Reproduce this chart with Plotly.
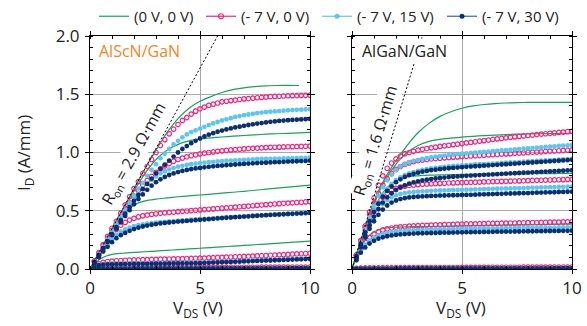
import plotly.graph_objects as go

# ---------------- data ----------------
V = [round(0.2 * i, 1) for i in range(51)]        # V_DS grid of the measured points
VG = [0.5 * i for i in range(21)]                 # V_DS grid of the (0 V, 0 V) lines

# ---- AlScN/GaN (left) ----
L_G1 = [0, 0.17, 0.35, 0.52, 0.69, 0.86, 1.02, 1.17, 1.29, 1.38, 1.44, 1.48, 1.515, 1.54, 1.555, 1.565, 1.572, 1.575, 1.576, 1.575]
L_G2 = [0, 0.17, 0.34, 0.51, 0.67, 0.82, 0.94, 1.02, 1.07, 1.10, 1.115, 1.125, 1.133, 1.14, 1.146, 1.152, 1.157, 1.161, 1.165, 1.168, 1.172]
L_G3 = [0, 0.16, 0.32, 0.46, 0.55, 0.585, 0.60, 0.61, 0.62, 0.628, 0.635, 0.643, 0.651, 0.659, 0.667, 0.676, 0.685, 0.694, 0.703, 0.712, 0.72]
L_G4 = [0, 0.09, 0.125, 0.135, 0.142, 0.148, 0.154, 0.16, 0.166, 0.172, 0.178, 0.184, 0.19, 0.196, 0.202, 0.208, 0.214, 0.22, 0.227, 0.233, 0.24]
L_G5 = [0, 0.004, 0.005, 0.005, 0.005, 0.005, 0.006, 0.006, 0.006, 0.006, 0.006, 0.007, 0.007, 0.007, 0.007, 0.007, 0.008, 0.008, 0.008, 0.008, 0.008]

L_P1 = [0, 0.07, 0.14, 0.21, 0.28, 0.35, 0.41, 0.48, 0.55, 0.62, 0.69, 0.75, 0.82, 0.88, 0.94, 1.00, 1.06, 1.11, 1.16, 1.20, 1.24, 1.275, 1.30, 1.33, 1.355, 1.375, 1.39, 1.405, 1.415, 1.425, 1.435, 1.44, 1.445, 1.45, 1.455, 1.46, 1.463, 1.466, 1.47, 1.473, 1.476, 1.479, 1.481, 1.483, 1.485, 1.487, 1.488, 1.489, 1.49, 1.491, 1.492]
L_P2 = [0, 0.066, 0.132, 0.198, 0.264, 0.33, 0.39, 0.45, 0.51, 0.57, 0.625, 0.675, 0.72, 0.76, 0.795, 0.83, 0.86, 0.885, 0.905, 0.925, 0.94, 0.952, 0.963, 0.972, 0.98, 0.988, 0.994, 1.0, 1.005, 1.01, 1.014, 1.018, 1.022, 1.025, 1.028, 1.031, 1.034, 1.036, 1.038, 1.04, 1.042, 1.044, 1.045, 1.046, 1.048, 1.049, 1.05, 1.051, 1.052, 1.053, 1.055]
L_P3 = [0, 0.06, 0.12, 0.18, 0.24, 0.295, 0.34, 0.375, 0.40, 0.42, 0.435, 0.447, 0.456, 0.463, 0.469, 0.474, 0.478, 0.482, 0.486, 0.489, 0.492, 0.495, 0.498, 0.501, 0.504, 0.507, 0.51, 0.513, 0.516, 0.519, 0.522, 0.525, 0.528, 0.531, 0.534, 0.537, 0.54, 0.543, 0.546, 0.549, 0.552, 0.555, 0.558, 0.561, 0.564, 0.566, 0.568, 0.571, 0.573, 0.576, 0.578]
L_P4 = [0, 0.025, 0.045, 0.057, 0.064, 0.068, 0.071, 0.073, 0.075, 0.077, 0.078, 0.079, 0.08, 0.081, 0.082, 0.083, 0.084, 0.085, 0.086, 0.087, 0.088, 0.089, 0.09, 0.091, 0.092, 0.093, 0.094, 0.096, 0.097, 0.099, 0.1, 0.102, 0.103, 0.105, 0.106, 0.108, 0.109, 0.111, 0.113, 0.114, 0.116, 0.118, 0.12, 0.121, 0.123, 0.125, 0.127, 0.129, 0.131, 0.133, 0.135]
L_P5 = [0, 0.006, 0.008, 0.009, 0.01, 0.01, 0.01, 0.011, 0.011, 0.011, 0.011, 0.011, 0.012, 0.012, 0.012, 0.012, 0.012, 0.012, 0.013, 0.013, 0.013, 0.013, 0.013, 0.013, 0.013, 0.014, 0.014, 0.014, 0.014, 0.014, 0.014, 0.014, 0.015, 0.015, 0.015, 0.015, 0.015, 0.015, 0.015, 0.016, 0.016, 0.016, 0.016, 0.016, 0.016, 0.016, 0.017, 0.017, 0.017, 0.017, 0.017]

L_B1 = [0, 0.065, 0.13, 0.195, 0.26, 0.325, 0.39, 0.45, 0.51, 0.57, 0.63, 0.69, 0.74, 0.80, 0.85, 0.90, 0.95, 0.99, 1.03, 1.07, 1.10, 1.13, 1.155, 1.175, 1.19, 1.205, 1.22, 1.235, 1.25, 1.262, 1.275, 1.285, 1.295, 1.305, 1.313, 1.32, 1.326, 1.332, 1.338, 1.343, 1.347, 1.35, 1.353, 1.356, 1.359, 1.362, 1.364, 1.366, 1.368, 1.37, 1.372]
L_B2 = [0, 0.062, 0.124, 0.186, 0.248, 0.31, 0.37, 0.43, 0.49, 0.545, 0.60, 0.645, 0.69, 0.73, 0.765, 0.795, 0.82, 0.84, 0.855, 0.868, 0.878, 0.886, 0.893, 0.899, 0.904, 0.909, 0.913, 0.917, 0.92, 0.923, 0.926, 0.929, 0.931, 0.933, 0.935, 0.937, 0.939, 0.941, 0.942, 0.944, 0.945, 0.946, 0.947, 0.948, 0.949, 0.95, 0.951, 0.952, 0.953, 0.954, 0.955]
L_B3 = [0, 0.055, 0.11, 0.165, 0.215, 0.26, 0.295, 0.32, 0.34, 0.355, 0.367, 0.376, 0.383, 0.389, 0.394, 0.398, 0.402, 0.405, 0.408, 0.411, 0.414, 0.417, 0.42, 0.423, 0.426, 0.429, 0.431, 0.433, 0.435, 0.438, 0.44, 0.442, 0.444, 0.447, 0.449, 0.451, 0.453, 0.456, 0.458, 0.46, 0.462, 0.465, 0.467, 0.469, 0.471, 0.474, 0.476, 0.478, 0.48, 0.482, 0.484]
L_B4 = [0, 0.024, 0.038, 0.044, 0.046, 0.047, 0.048, 0.048, 0.049, 0.049, 0.05, 0.05, 0.051, 0.051, 0.052, 0.052, 0.053, 0.053, 0.054, 0.054, 0.055, 0.055, 0.056, 0.056, 0.057, 0.057, 0.059, 0.06, 0.062, 0.063, 0.065, 0.066, 0.067, 0.069, 0.07, 0.072, 0.073, 0.075, 0.076, 0.078, 0.079, 0.08, 0.082, 0.083, 0.085, 0.086, 0.088, 0.089, 0.09, 0.092, 0.093]

L_N1 = [0, 0.06, 0.12, 0.18, 0.24, 0.30, 0.36, 0.42, 0.475, 0.53, 0.585, 0.635, 0.685, 0.73, 0.775, 0.82, 0.86, 0.895, 0.93, 0.965, 1.0, 1.03, 1.055, 1.08, 1.10, 1.12, 1.138, 1.153, 1.166, 1.178, 1.188, 1.198, 1.207, 1.215, 1.222, 1.229, 1.236, 1.242, 1.248, 1.253, 1.258, 1.263, 1.267, 1.271, 1.274, 1.277, 1.28, 1.282, 1.284, 1.286, 1.288]
L_N2 = [0, 0.058, 0.116, 0.174, 0.232, 0.29, 0.345, 0.40, 0.455, 0.505, 0.555, 0.60, 0.64, 0.68, 0.715, 0.745, 0.77, 0.79, 0.807, 0.82, 0.832, 0.842, 0.85, 0.857, 0.863, 0.868, 0.873, 0.877, 0.881, 0.885, 0.888, 0.891, 0.894, 0.897, 0.90, 0.902, 0.905, 0.907, 0.909, 0.911, 0.913, 0.915, 0.917, 0.918, 0.92, 0.922, 0.923, 0.925, 0.926, 0.928, 0.93]
L_N3 = [0, 0.05, 0.10, 0.15, 0.19, 0.23, 0.265, 0.29, 0.31, 0.328, 0.343, 0.355, 0.365, 0.373, 0.38, 0.386, 0.391, 0.395, 0.399, 0.403, 0.407, 0.41, 0.413, 0.416, 0.419, 0.422, 0.425, 0.428, 0.431, 0.434, 0.437, 0.44, 0.442, 0.445, 0.447, 0.45, 0.452, 0.455, 0.457, 0.46, 0.462, 0.464, 0.466, 0.468, 0.47, 0.472, 0.474, 0.476, 0.477, 0.479, 0.481]
L_N4 = [0, 0.02, 0.032, 0.037, 0.039, 0.04, 0.041, 0.041, 0.042, 0.042, 0.043, 0.043, 0.044, 0.044, 0.045, 0.045, 0.046, 0.046, 0.047, 0.047, 0.048, 0.048, 0.049, 0.049, 0.05, 0.05, 0.052, 0.053, 0.055, 0.056, 0.058, 0.059, 0.06, 0.062, 0.063, 0.065, 0.066, 0.068, 0.069, 0.071, 0.072, 0.073, 0.075, 0.076, 0.078, 0.079, 0.081, 0.082, 0.083, 0.085, 0.086]
OFF = [0, 0.003, 0.004, 0.004, 0.004, 0.004, 0.004, 0.004, 0.004, 0.004, 0.005, 0.005, 0.005, 0.005, 0.005, 0.005, 0.005, 0.005, 0.005, 0.005, 0.005, 0.005, 0.005, 0.005, 0.005, 0.005, 0.005, 0.005, 0.005, 0.005, 0.006, 0.006, 0.006, 0.006, 0.006, 0.006, 0.006, 0.006, 0.006, 0.006, 0.006, 0.006, 0.006, 0.006, 0.006, 0.006, 0.007, 0.007, 0.007, 0.007, 0.007]

# ---- AlGaN/GaN (right) ----
R_G1 = [0, 0.30, 0.58, 0.78, 0.93, 1.06, 1.17, 1.25, 1.31, 1.35, 1.38, 1.40, 1.412, 1.42, 1.425, 1.428, 1.43, 1.43, 1.43, 1.43, 1.43]
R_G2 = [0, 0.30, 0.56, 0.76, 0.90, 1.00, 1.06, 1.095, 1.113, 1.123, 1.132, 1.139, 1.145, 1.15, 1.154, 1.157, 1.159, 1.161, 1.163, 1.164, 1.165]
R_G3 = [0, 0.28, 0.52, 0.68, 0.76, 0.79, 0.80, 0.805, 0.808, 0.81, 0.812, 0.813, 0.814, 0.815, 0.816, 0.817, 0.817, 0.818, 0.819, 0.82, 0.82]
R_G4 = [0, 0.22, 0.32, 0.35, 0.36, 0.362, 0.364, 0.365, 0.367, 0.368, 0.37, 0.372, 0.373, 0.375, 0.376, 0.378, 0.379, 0.381, 0.382, 0.384, 0.385]

R_P1 = [0, 0.12, 0.245, 0.37, 0.49, 0.61, 0.72, 0.80, 0.865, 0.91, 0.945, 0.97, 0.99, 1.0, 1.01, 1.02, 1.027, 1.034, 1.04, 1.046, 1.052, 1.057, 1.062, 1.067, 1.072, 1.077, 1.082, 1.087, 1.092, 1.097, 1.102, 1.107, 1.112, 1.117, 1.121, 1.126, 1.13, 1.134, 1.138, 1.142, 1.146, 1.15, 1.154, 1.158, 1.161, 1.165, 1.168, 1.172, 1.175, 1.179, 1.182]
R_P2 = [0, 0.12, 0.24, 0.355, 0.465, 0.565, 0.65, 0.72, 0.775, 0.82, 0.855, 0.88, 0.898, 0.911, 0.921, 0.929, 0.935, 0.94, 0.944, 0.948, 0.951, 0.954, 0.957, 0.96, 0.962, 0.965, 0.967, 0.97, 0.972, 0.974, 0.976, 0.979, 0.981, 0.983, 0.986, 0.988, 0.99, 0.993, 0.995, 0.997, 1.0, 1.002, 1.004, 1.006, 1.009, 1.011, 1.013, 1.015, 1.018, 1.02, 1.022]
R_P3 = [0, 0.115, 0.225, 0.33, 0.42, 0.50, 0.565, 0.615, 0.65, 0.675, 0.692, 0.703, 0.711, 0.717, 0.721, 0.724, 0.727, 0.729, 0.731, 0.733, 0.735, 0.736, 0.738, 0.739, 0.741, 0.742, 0.743, 0.744, 0.745, 0.746, 0.748, 0.749, 0.75, 0.751, 0.752, 0.753, 0.754, 0.755, 0.756, 0.757, 0.759, 0.76, 0.761, 0.762, 0.763, 0.764, 0.765, 0.766, 0.767, 0.769, 0.77]
R_P4 = [0, 0.09, 0.17, 0.23, 0.27, 0.30, 0.32, 0.335, 0.345, 0.352, 0.358, 0.362, 0.365, 0.368, 0.37, 0.372, 0.374, 0.375, 0.377, 0.378, 0.379, 0.381, 0.382, 0.383, 0.385, 0.386, 0.387, 0.387, 0.388, 0.389, 0.39, 0.391, 0.391, 0.392, 0.393, 0.394, 0.395, 0.395, 0.396, 0.397, 0.398, 0.399, 0.399, 0.40, 0.401, 0.402, 0.403, 0.403, 0.404, 0.405, 0.406]

R_B1 = [0, 0.115, 0.23, 0.34, 0.445, 0.54, 0.63, 0.70, 0.76, 0.81, 0.85, 0.88, 0.90, 0.915, 0.927, 0.937, 0.945, 0.952, 0.958, 0.964, 0.969, 0.974, 0.978, 0.982, 0.986, 0.99, 0.993, 0.996, 0.999, 1.002, 1.005, 1.008, 1.011, 1.014, 1.017, 1.02, 1.023, 1.026, 1.029, 1.032, 1.035, 1.038, 1.041, 1.044, 1.047, 1.05, 1.053, 1.056, 1.059, 1.062, 1.065]
R_B2 = [0, 0.11, 0.22, 0.32, 0.415, 0.50, 0.575, 0.64, 0.69, 0.73, 0.762, 0.787, 0.806, 0.82, 0.832, 0.842, 0.85, 0.857, 0.863, 0.868, 0.873, 0.877, 0.88, 0.884, 0.887, 0.89, 0.892, 0.894, 0.897, 0.899, 0.901, 0.903, 0.905, 0.907, 0.91, 0.912, 0.914, 0.916, 0.918, 0.921, 0.923, 0.925, 0.927, 0.929, 0.932, 0.934, 0.936, 0.938, 0.94, 0.943, 0.945]
R_B3 = [0, 0.105, 0.205, 0.30, 0.38, 0.45, 0.51, 0.555, 0.59, 0.615, 0.632, 0.644, 0.652, 0.658, 0.662, 0.665, 0.667, 0.669, 0.671, 0.673, 0.674, 0.675, 0.677, 0.678, 0.679, 0.68, 0.681, 0.682, 0.683, 0.684, 0.686, 0.687, 0.688, 0.689, 0.69, 0.691, 0.692, 0.693, 0.694, 0.695, 0.697, 0.698, 0.699, 0.70, 0.701, 0.702, 0.703, 0.704, 0.705, 0.706, 0.707]
R_B4 = [0, 0.085, 0.16, 0.21, 0.245, 0.27, 0.288, 0.30, 0.31, 0.317, 0.322, 0.326, 0.329, 0.331, 0.333, 0.335, 0.336, 0.337, 0.338, 0.339, 0.34, 0.341, 0.342, 0.343, 0.344, 0.345, 0.346, 0.346, 0.347, 0.347, 0.348, 0.348, 0.349, 0.349, 0.35, 0.35, 0.351, 0.351, 0.352, 0.352, 0.353, 0.354, 0.354, 0.355, 0.355, 0.356, 0.356, 0.357, 0.357, 0.358, 0.358]

R_N1 = [0, 0.11, 0.215, 0.315, 0.41, 0.49, 0.56, 0.62, 0.67, 0.71, 0.745, 0.77, 0.79, 0.805, 0.817, 0.827, 0.835, 0.842, 0.848, 0.853, 0.857, 0.861, 0.865, 0.868, 0.871, 0.874, 0.877, 0.879, 0.882, 0.884, 0.887, 0.889, 0.892, 0.894, 0.897, 0.899, 0.902, 0.904, 0.907, 0.909, 0.912, 0.914, 0.917, 0.919, 0.922, 0.924, 0.927, 0.929, 0.932, 0.934, 0.937]
R_N2 = [0, 0.10, 0.20, 0.29, 0.375, 0.45, 0.515, 0.57, 0.615, 0.65, 0.678, 0.70, 0.718, 0.732, 0.743, 0.752, 0.76, 0.766, 0.772, 0.777, 0.781, 0.785, 0.789, 0.792, 0.795, 0.798, 0.80, 0.802, 0.804, 0.806, 0.808, 0.81, 0.812, 0.814, 0.816, 0.818, 0.82, 0.822, 0.824, 0.826, 0.828, 0.83, 0.832, 0.834, 0.836, 0.838, 0.84, 0.842, 0.844, 0.846, 0.848]
R_N3 = [0, 0.095, 0.185, 0.27, 0.345, 0.41, 0.465, 0.51, 0.545, 0.57, 0.588, 0.60, 0.608, 0.614, 0.618, 0.621, 0.623, 0.625, 0.627, 0.628, 0.63, 0.631, 0.632, 0.633, 0.634, 0.635, 0.636, 0.637, 0.638, 0.64, 0.641, 0.642, 0.643, 0.644, 0.645, 0.647, 0.648, 0.649, 0.65, 0.651, 0.652, 0.654, 0.655, 0.656, 0.657, 0.658, 0.659, 0.661, 0.662, 0.663, 0.664]
R_N4 = [0, 0.075, 0.14, 0.185, 0.218, 0.242, 0.26, 0.272, 0.281, 0.288, 0.293, 0.297, 0.30, 0.302, 0.304, 0.306, 0.307, 0.308, 0.309, 0.31, 0.311, 0.312, 0.312, 0.313, 0.314, 0.315, 0.316, 0.316, 0.317, 0.317, 0.318, 0.318, 0.319, 0.32, 0.32, 0.321, 0.321, 0.322, 0.322, 0.323, 0.324, 0.324, 0.325, 0.325, 0.326, 0.326, 0.327, 0.327, 0.328, 0.328, 0.329]

RON = [2.9, 1.6]              # on-resistance (Ohm mm) of the dashed lines
I_TOP = 2.0                   # top of the current axis
SERIES = ["(0 V, 0 V)", "(- 7 V, 0 V)", "(- 7 V, 15 V)", "(- 7 V, 30 V)"]

# ---------------- styles ----------------
GREEN = "#17a457"
PINK = "#f5237d"
LBLUE = "#5cc6f2"
NAVY = "#0c2f72"
NAVY_LINE = "#3a62a6"
ORANGE = "#f2861e"
FONT = "Open Sans"
TXT = "#222"

fig = go.Figure()

panels = [
    dict(xa="x", ya="y",
         G=[(VG[:len(L_G1)], L_G1), (VG, L_G2), (VG, L_G3), (VG, L_G4), (VG, L_G5)],
         P=[L_P1, L_P2, L_P3, L_P4, L_P5],
         B=[L_B1, L_B2, L_B3, L_B4, OFF],
         N=[L_N1, L_N2, L_N3, L_N4, OFF], ron=RON[0]),
    dict(xa="x2", ya="y2",
         G=[(VG, R_G1), (VG, R_G2), (VG, R_G3), (VG, R_G4), (VG, L_G5)],
         P=[R_P1, R_P2, R_P3, R_P4, L_P5],
         B=[R_B1, R_B2, R_B3, R_B4, OFF],
         N=[R_N1, R_N2, R_N3, R_N4, OFF], ron=RON[1]),
]

for p in panels:
    for gx, gy in p["G"]:
        fig.add_trace(go.Scatter(x=gx, y=gy, mode="lines", line=dict(color=GREEN, width=1.2, shape="spline", smoothing=0.8),
                                 xaxis=p["xa"], yaxis=p["ya"], showlegend=False, hoverinfo="skip"))
    for yy in p["P"]:
        fig.add_trace(go.Scatter(x=V, y=yy, mode="markers",
                                 marker=dict(symbol="circle-open", size=4.5, color=PINK, line=dict(width=1.2, color=PINK)),
                                 xaxis=p["xa"], yaxis=p["ya"], showlegend=False, hoverinfo="skip"))
    for yy in p["B"]:
        fig.add_trace(go.Scatter(x=V, y=yy, mode="markers", marker=dict(symbol="circle", size=4.8, color=LBLUE),
                                 xaxis=p["xa"], yaxis=p["ya"], showlegend=False, hoverinfo="skip"))
    for yy in p["N"]:
        fig.add_trace(go.Scatter(x=V, y=yy, mode="markers", marker=dict(symbol="circle", size=4.8, color=NAVY),
                                 xaxis=p["xa"], yaxis=p["ya"], showlegend=False, hoverinfo="skip"))
    # on-resistance line I = V / Ron
    fig.add_trace(go.Scatter(x=[0, I_TOP * p["ron"]], y=[0, I_TOP], mode="lines",
                             line=dict(color="black", width=1, dash="2px,2px"),
                             xaxis=p["xa"], yaxis=p["ya"], showlegend=False, hoverinfo="skip"))

# legend entries (one legend per entry so each sits where the reference has it)
leg_style = [
    dict(mode="lines", line=dict(color=GREEN, width=1.2)),
    dict(mode="lines+markers", line=dict(color=PINK, width=1.2),
         marker=dict(symbol="circle-open", size=5, color=PINK, line=dict(width=1.2, color=PINK))),
    dict(mode="lines+markers", line=dict(color=LBLUE, width=1.2), marker=dict(symbol="circle", size=5, color=LBLUE)),
    dict(mode="lines+markers", line=dict(color=NAVY_LINE, width=1.2), marker=dict(symbol="circle", size=5, color=NAVY)),
]
leg_names = ["legend", "legend2", "legend3", "legend4"]
leg_x = [94, 201, 317, 442]   # left pixel of each legend entry
for name, st, ln in zip(SERIES, leg_style, leg_names):
    fig.add_trace(go.Scatter(x=[None], y=[None], name=name, legend=ln, **st))

W, H = 587, 326
xd1 = [90 / W, 310 / W]
xd2 = [352 / W, 572 / W]
yd = [(H - 269) / H, (H - 36) / H]

common_x = dict(range=[0, 10], tickvals=[0, 5, 10], ticks="outside", ticklen=4, tickwidth=1, tickcolor="black",
                minor=dict(dtick=1, ticks="inside", ticklen=3, tickcolor="black", showgrid=False),
                showline=True, linecolor="black", linewidth=1, mirror="ticks", automargin=False,
                showgrid=True, gridcolor="#a9a9a9", gridwidth=1.2, zeroline=False, ticklabelstandoff=0,
                tickfont=dict(family=FONT, size=17, color=TXT), fixedrange=True)
common_y = dict(range=[0, 2.0], tickvals=[0, 0.5, 1.0, 1.5, 2.0], ticks="outside", ticklen=4, tickwidth=1, tickcolor="black",
                minor=dict(dtick=0.1, ticks="inside", ticklen=3, tickcolor="black", showgrid=False),
                showline=True, linecolor="black", linewidth=1, mirror="ticks", automargin=False,
                showgrid=True, gridcolor="#a9a9a9", gridwidth=1.2, zeroline=False, ticklabelstandoff=2,
                tickfont=dict(family=FONT, size=17, color=TXT), fixedrange=True)

layout_legends = {}
for ln, lx in zip(leg_names, leg_x):
    layout_legends[ln] = dict(orientation="h", x=lx / W, y=1.0, xanchor="left", yanchor="top",
                              font=dict(family=FONT, size=15, color=TXT), itemwidth=30,
                              bgcolor="rgba(0,0,0,0)")

fig.update_layout(
    width=W, height=H, margin=dict(l=0, r=0, t=0, b=0, pad=0, autoexpand=False),
    paper_bgcolor="white", plot_bgcolor="white",
    font=dict(family=FONT, color=TXT),
    xaxis=dict(common_x, domain=xd1, anchor="y"),
    xaxis2=dict(common_x, domain=xd2, anchor="y2"),
    yaxis=dict(common_y, domain=yd, anchor="x", tickformat=".1f"),
    yaxis2=dict(common_y, domain=yd, anchor="x2", showticklabels=False),
    annotations=[
        dict(text="I<sub>D</sub> (A/mm)", xref="paper", yref="paper", x=25 / W, y=(H - 153) / H,
             xanchor="center", yanchor="middle",
             textangle=-90, showarrow=False, font=dict(family=FONT, size=17, color=TXT)),
        dict(text="V<sub>DS</sub> (V)", xref="paper", yref="paper", x=198 / W, y=(H - 308) / H,
             xanchor="center", yanchor="middle",
             showarrow=False, font=dict(family=FONT, size=17, color=TXT)),
        dict(text="V<sub>DS</sub> (V)", xref="paper", yref="paper", x=461 / W, y=(H - 308) / H,
             xanchor="center", yanchor="middle",
             showarrow=False, font=dict(family=FONT, size=17, color=TXT)),
        dict(text="AlScN/GaN", xref="x", yref="y", x=0.3, y=1.87, xanchor="left", showarrow=False,
             font=dict(family=FONT, size=16, color=ORANGE)),
        dict(text="AlGaN/GaN", xref="x2", yref="y2", x=0.35, y=1.87, xanchor="left", showarrow=False,
             bgcolor="white", borderpad=1, font=dict(family=FONT, size=16, color=TXT)),
        dict(text="R<sub>on</sub> = 2.9 Ω·mm", xref="x", yref="y", x=2.0, y=0.99, textangle=-61,
             showarrow=False, bgcolor="white", borderpad=0, font=dict(family=FONT, size=16, color=TXT)),
        dict(text="R<sub>on</sub> = 1.6 Ω·mm", xref="x2", yref="y2", x=1.08, y=1.1, textangle=-73,
             showarrow=False, bgcolor="white", borderpad=0, font=dict(family=FONT, size=16, color=TXT)),
    ],
    **layout_legends,
)

fig.write_html("out.html")
